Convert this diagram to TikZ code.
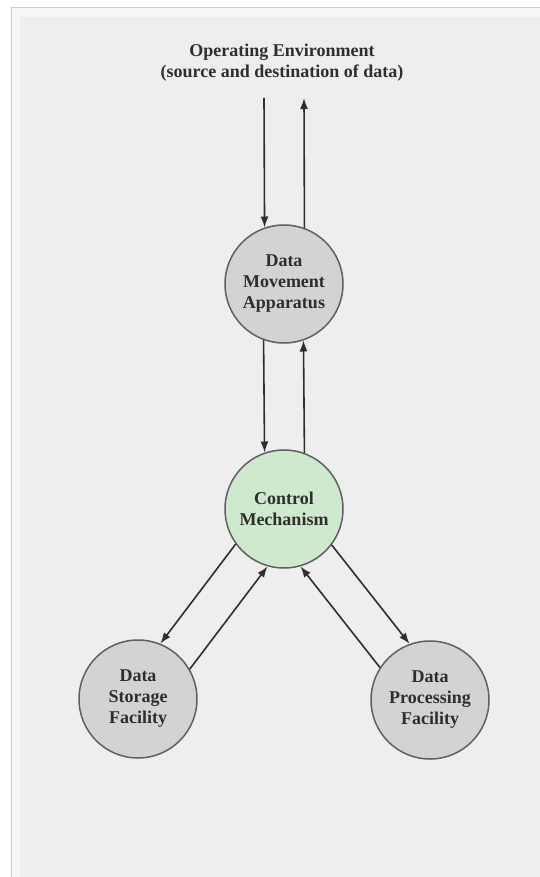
\documentclass[tikz,border=0pt]{standalone}
\usepackage{fontspec}
\setmainfont{Liberation Serif}
\usetikzlibrary{arrows.meta}
\definecolor{panel}{HTML}{EEEEEE}
\definecolor{panelstrip}{HTML}{F6F6F6}
\definecolor{panelline}{HTML}{CCCCCC}
\definecolor{circgray}{HTML}{D3D3D3}
\definecolor{circgreen}{HTML}{CFE9CF}
\definecolor{edge}{HTML}{5F5F5F}
\definecolor{ink}{HTML}{2E2E2E}
\begin{document}
\begin{tikzpicture}[x=1pt,y=-1pt,
  lbl/.style={font=\bfseries\fontsize{18}{21}\selectfont, text=ink, align=center},
  unit/.style={lbl, circle, draw=edge, line width=1.5pt, minimum size=118pt, inner sep=0pt},
  grayunit/.style={unit, fill=circgray},
  greenunit/.style={unit, fill=circgreen},
  arr/.style={draw=ink, line width=1.6pt, -{Latex[length=11pt,width=8pt]}}
]
\useasboundingbox (0,0) rectangle (540,877);
\fill[white] (0,0) rectangle (540,877);
\filldraw[fill=panelstrip, draw=panelline, line width=0.8pt] (11,7) rectangle (541,878);
\fill[panel] (20,17) rectangle (540,877);

\node[lbl] (env) at (282,63) {Operating Environment\\(source and destination of data)};
\node[grayunit] (dm) at (284,284) {Data\\Movement\\Apparatus};
\node[greenunit] (cm) at (284,509) {Control\\Mechanism};
\node[grayunit] (ds) at (138,699) {Data\\Storage\\Facility};
\node[grayunit] (dp) at (430,700) {Data\\Processing\\Facility};

\coordinate (inTop) at (264,98);
\coordinate (outTop) at (304,98);

\draw[arr] (inTop) -- (dm.109.5);
\draw[arr] (dm.70.5) -- (outTop);
\draw[arr] (dm.250.5) -- (cm.109.5);
\draw[arr] (cm.70.5) -- (dm.289.5);

\draw[arr] (cm.216.7) -- (ds.68.9);
\draw[arr] (ds.30.5) -- (cm.254.8);
\draw[arr] (cm.323.5) -- (dp.110.8);
\draw[arr] (dp.147) -- (cm.286);
\end{tikzpicture}
\end{document}
